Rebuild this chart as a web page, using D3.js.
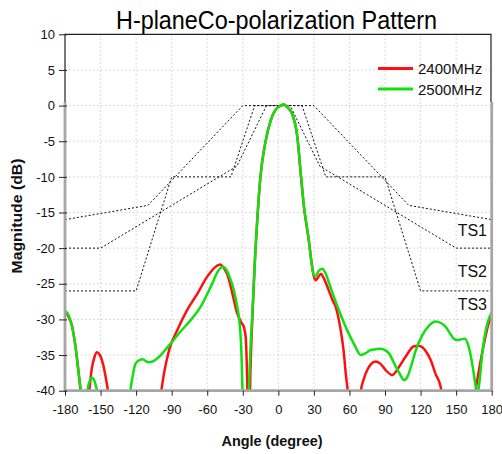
<!DOCTYPE html>
<html>
<head>
<meta charset="utf-8">
<script src="https://cdn.jsdelivr.net/npm/d3@7"></script>
<style>
  body { margin: 0; background: #fff; }
  svg { display: block; font-family: "Liberation Sans", Arial, sans-serif; }
</style>
</head>
<body>
<svg id="chart" width="502" height="454"></svg>
<script>
// axis ticks
const xTicks = [-180, -150, -120, -90, -60, -30, 0, 30, 60, 90, 120, 150, 180];
const yTicks = [-40, -35, -30, -25, -20, -15, -10, -5, 0, 5, 10];

// 2400MHz (values under -40 fall off the bottom of the plot)
const redAngle = [
  -180, -177, -174, -171, -168, -165, -162, -159.5, -157.5, -155, -153, -150.5, -148, -146, -143.5, -140,
  -104, -99, -96.5, -92, -85, -77, -68, -60, -52, -49, -46, -43, -39, -35, -31, -29, -27.5, -26.5, -25.5, -24.5,
  -23.5, -22, -20, -17.5, -15, -11, -6.5, -2, 2, 4.5, 8, 12, 16, 19, 21.5, 25.5, 28, 30, 31.5, 33.5, 36, 38,
  42, 46, 48.5, 52.5, 55, 57, 58.7, 61, 67, 69.5, 72, 75, 78, 82, 86, 90.5, 96, 102, 109, 114, 118, 121.5,
  125, 128.5, 132.5, 137, 139, 142, 163, 166.5, 170, 173.5, 177, 180
];
const redDb = [
  -29, -29.6, -31, -34, -38.2, -43, -44, -40, -37, -35.2, -34.6, -35, -36.2, -37.8, -40.3, -46,
  -46, -40.3, -37.6, -34.2, -31.4, -28.7, -26.3, -24, -22.5, -22.3, -22.8, -23.7, -26.2, -29, -30.5, -31.1, -32.6, -37, -44, -44,
  -37, -30, -22.5, -15.3, -9.8, -5.2, -2.1, -0.5, 0, 0.1, -0.3, -1.3, -4.4, -9.8, -14.1, -18.7, -22, -24, -24.5, -24.1, -23.6, -24.1,
  -25.7, -27.4, -28.3, -31.4, -34.3, -37.8, -40.3, -46, -46, -40.2, -38.4, -37.1, -36.3, -35.9, -36.2, -37.1, -37.8, -36.6, -34.8, -33.8, -33.7, -33.9,
  -34.6, -35.7, -37.6, -39.5, -41.5, -46, -46, -40, -36.4, -33.4, -30.8, -29.3
];

// 2500MHz
const greenAngle = [
  -180, -177, -174, -171, -168, -166, -164, -161.5, -159.5, -157.5, -155.8, -154, -152.5, -150,
  -128, -125, -122.5, -120.5, -117, -114.5, -110, -106, -101, -96.5, -89.5, -82.5, -74, -65.5, -57, -50,
  -47.3, -44, -41.5, -37.5, -34.5, -33, -31.8, -31, -30.2, -29.5, -27, -25, -23.5, -22, -20, -17.5, -15,
  -11, -6.5, -2, 2, 4.5, 8, 12, 16, 19, 21.5, 25.5, 28, 29.8, 31.5, 34, 37, 40, 43, 47, 52, 58, 64, 69.5,
  73, 78, 82, 86.5, 90, 93.5, 99, 103, 106, 108, 110, 113, 116, 121.5, 127, 132.5, 137, 141, 145, 148,
  151, 154, 157.5, 160, 162, 164.5, 166.5, 168, 169.5, 172, 176, 180
];
const greenDb = [
  -28.8, -29.4, -31, -34, -38.2, -40.5, -42, -40.2, -38.8, -38.2, -38.4, -39.3, -40.5, -46,
  -46, -40.2, -37.6, -36.2, -35.7, -35.6, -36, -35.9, -35.3, -34.5, -33.1, -31.7, -30.1, -28.2, -25.4, -23,
  -22.6, -23, -23.9, -25.9, -28.4, -30, -32.5, -35.5, -40.5, -46, -46, -40.5, -34, -29.5, -22.3, -15.2, -9.8,
  -5.2, -2.1, -0.5, 0, 0.2, -0.3, -1.3, -4.3, -9.6, -13.9, -18.6, -22, -23.8, -23.9, -23.2, -22.9, -23.6, -25, -26.9, -29.1, -31.5, -33.5, -35,
  -34.8, -34.3, -34.2, -34.1, -34.3, -34.8, -36.6, -37.8, -38.5, -38.3, -37.6, -36, -34.3, -32.2, -30.9, -30.3, -30.5, -31, -32, -32.7,
  -32.9, -32.8, -32.7, -33.5, -34.8, -37.2, -39.4, -40.6, -39, -34.8, -30.8, -29
];

// mask templates
const ts1Angle = [-180, -110, -30, 30, 110, 180];
const ts1Db = [-16, -14, 0, 0, -14, -16];
const ts2Angle = [-180, -150, -35, -10, 10, 35, 150, 180];
const ts2Db = [-20, -20, -8.5, 0, 0, -8.5, -20, -20];
const ts3Angle = [-180, -120, -90, -40, -20, 20, 40, 90, 120, 180];
const ts3Db = [-26, -26, -10, -10, 0, 0, -10, -10, -26, -26];
const tsNames = ['TS1', 'TS2', 'TS3'];

const seriesNames = ['2400MHz', '2500MHz'];

function drawChart(svg) {

  // variables
  const width = 502,
    height = 454,
    padLeft = 65,
    padRight = 10.3,
    padTop = 34.3,
    padBottom = 63.3;

  const innerWidth = width - padLeft - padRight;
  const innerHeight = height - padTop - padBottom;

  const c1 = '#ff1010';
  const c2 = '#10e010';

  const zip = (a, b) => a.map((v, i) => ({ angle: v, db: b[i] }));

  const series = [
    { name: seriesNames[0], color: c1, values: zip(redAngle, redDb) },
    { name: seriesNames[1], color: c2, values: zip(greenAngle, greenDb) }
  ];
  const masks = [zip(ts1Angle, ts1Db), zip(ts2Angle, ts2Db), zip(ts3Angle, ts3Db)];

  // scales
  const x = d3.scaleLinear()
    .domain([-180, 180])
    .range([padLeft, padLeft + innerWidth]);

  const y = d3.scaleLinear()
    .domain([-40, 10])
    .range([padTop + innerHeight, padTop]);

  const line = d3.line()
    .x(d => x(d.angle))
    .y(d => y(d.db));

  // clip to plot area
  svg.append('clipPath')
    .attr('id', 'plotClip')
    .append('rect')
    .attr('x', padLeft)
    .attr('y', padTop)
    .attr('width', innerWidth)
    .attr('height', innerHeight);

  // grid
  const grid = svg.append('g').attr('class', 'grid')
    .style('stroke', '#cfcfcf')
    .style('stroke-width', 1)
    .style('stroke-dasharray', '1.5,2.5');

  grid.selectAll('.gx').data(xTicks.slice(1, -1))
    .join('line')
    .attr('class', 'gx')
    .attr('x1', d => x(d)).attr('x2', d => x(d))
    .attr('y1', padTop).attr('y2', padTop + innerHeight);

  grid.selectAll('.gy').data(yTicks.slice(1, -1))
    .join('line')
    .attr('class', 'gy')
    .attr('x1', padLeft).attr('x2', padLeft + innerWidth)
    .attr('y1', d => y(d)).attr('y2', d => y(d));

  // mask lines
  svg.append('g')
    .attr('clip-path', 'url(#plotClip)')
    .selectAll('path').data(masks)
    .join('path')
    .attr('d', line)
    .style('fill', 'none')
    .style('stroke', '#111')
    .style('stroke-width', 1)
    .style('stroke-dasharray', '2,2');

  // mask labels
  svg.selectAll('.tsLabel').data(tsNames)
    .join('text')
    .attr('class', 'tsLabel')
    .attr('x', 487)
    .attr('y', (d, i) => [236, 277, 310][i])
    .attr('text-anchor', 'end')
    .style('font-size', '16px')
    .style('fill', '#111')
    .text(d => d);

  // data lines
  const curve = d3.line()
    .x(d => x(d.angle))
    .y(d => y(d.db))
    .curve(d3.curveMonotoneX);

  svg.append('g')
    .attr('clip-path', 'url(#plotClip)')
    .selectAll('path').data(series)
    .join('path')
    .attr('d', d => curve(d.values))
    .style('fill', 'none')
    .style('stroke', d => d.color)
    .style('stroke-width', 2.5)
    .style('stroke-linejoin', 'round');

  // frame: dark top part, grey lower part
  const y0 = y(0.5);
  svg.append('path')
    .attr('d', `M${padLeft},${y0} V${padTop} H${padLeft + innerWidth - 0.7} V${y0}`)
    .style('fill', 'none')
    .style('stroke', '#222')
    .style('stroke-width', 1.2);

  svg.append('path')
    .attr('d', `M${padLeft},${y0} V${padTop + innerHeight} H${padLeft + innerWidth} V${y0}`)
    .style('fill', 'none')
    .style('stroke', '#a6a6a6')
    .style('stroke-width', 2.8);

  // axes
  const yAxis = d3.axisLeft(y)
    .tickValues(yTicks)
    .tickSize(6)
    .tickPadding(4)
    .tickFormat(d => String(d));

  const xAxis = d3.axisBottom(x)
    .tickValues(xTicks)
    .tickSize(5)
    .tickPadding(9)
    .tickFormat(d => String(d));

  const gy = svg.append('g')
    .attr('transform', `translate(${padLeft},0)`)
    .call(yAxis);
  gy.select('.domain').remove();
  gy.selectAll('.tick line').attr('x1', 2).style('stroke', '#222');

  const gx = svg.append('g')
    .attr('transform', `translate(0,${padTop + innerHeight})`)
    .call(xAxis);
  gx.select('.domain').remove();
  gx.selectAll('.tick line').style('stroke', '#222');

  svg.selectAll('.tick text')
    .style('font-family', '"Liberation Sans", Arial, sans-serif')
    .style('font-size', '13px')
    .style('fill', '#111');

  // title
  svg.append('text')
    .attr('x', 276.5)
    .attr('y', 29)
    .attr('text-anchor', 'middle')
    .attr('textLength', 321)
    .attr('lengthAdjust', 'spacingAndGlyphs')
    .style('font-size', '25px')
    .style('fill', '#000')
    .text('H-planeCo-polarization Pattern');

  // axis titles
  svg.append('text')
    .attr('x', 272)
    .attr('y', 446)
    .attr('text-anchor', 'middle')
    .attr('textLength', 101)
    .attr('lengthAdjust', 'spacingAndGlyphs')
    .style('font-size', '14px')
    .style('font-weight', 'bold')
    .style('fill', '#111')
    .text('Angle (degree)');

  svg.append('text')
    .attr('transform', 'translate(22,216) rotate(-90)')
    .attr('text-anchor', 'middle')
    .attr('textLength', 115)
    .attr('lengthAdjust', 'spacingAndGlyphs')
    .style('font-size', '14px')
    .style('font-weight', 'bold')
    .style('fill', '#111')
    .text('Magnitude (dB)');

  // legend
  const legend = svg.selectAll('.legend').data(series)
    .join('g')
    .attr('class', 'legend')
    .attr('transform', (d, i) => `translate(378,${68.5 + i * 20.5})`);

  legend.append('line')
    .attr('x1', 0).attr('x2', 35)
    .style('stroke', d => d.color)
    .style('stroke-width', 3);

  legend.append('text')
    .attr('x', 40)
    .attr('y', 5.5)
    .style('font-size', '15px')
    .style('fill', '#111')
    .text(d => d.name);
}

drawChart(d3.select('#chart'));
</script>
</body>
</html>
